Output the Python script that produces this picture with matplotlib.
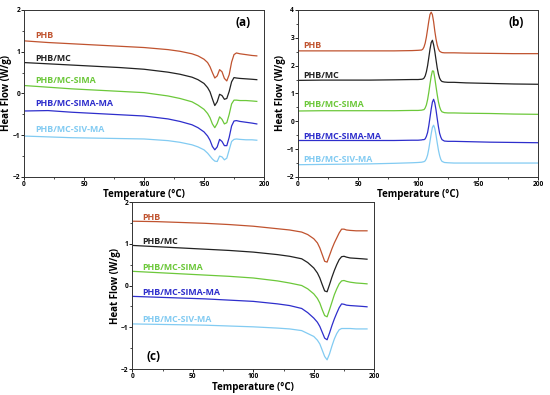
"""
DSC heat-flow curves for PHB and its composites, three panels (a), (b), (c).

Output:
    out.png
"""

import matplotlib.pyplot as plt
from matplotlib.ticker import MultipleLocator


OUTPUT_FIGURE = "out.png"

SAMPLE_NAMES = [
    "PHB",
    "PHB/MC",
    "PHB/MC-SIMA",
    "PHB/MC-SIMA-MA",
    "PHB/MC-SIV-MA",
]

COLORS = ["#c0532f", "#222222", "#6cc83a", "#2e2ecc", "#82cbf2"]

# panel (a): first heating, double melting peak
TEMP_A = [0, 20, 40, 60, 80, 100, 120, 130, 140, 145, 150, 153, 155, 157, 159,
          161, 163, 165, 167, 169, 171, 173, 175, 177, 180, 185, 190, 194]
PHB_A = [1.26, 1.22, 1.19, 1.16, 1.13, 1.10, 1.05, 1.01, 0.95, 0.90, 0.82, 0.74,
         0.64, 0.50, 0.37, 0.42, 0.57, 0.52, 0.36, 0.30, 0.45, 0.75, 0.93, 0.97,
         0.95, 0.93, 0.91, 0.90]
MC_A = [0.74, 0.71, 0.68, 0.65, 0.62, 0.58, 0.51, 0.46, 0.39, 0.33, 0.24, 0.14,
        0.04, -0.13, -0.29, -0.20, -0.02, -0.05, -0.14, -0.12, 0.05, 0.28, 0.38,
        0.37, 0.36, 0.35, 0.34, 0.33]
SIMA_A = [0.19, 0.15, 0.11, 0.08, 0.05, 0.02, -0.06, -0.12, -0.20, -0.28, -0.38,
          -0.48, -0.58, -0.73, -0.82, -0.72, -0.56, -0.62, -0.73, -0.70, -0.50,
          -0.25, -0.16, -0.16, -0.17, -0.17, -0.18, -0.19]
SIMA_MA_A = [-0.42, -0.41, -0.45, -0.48, -0.51, -0.54, -0.61, -0.67, -0.75, -0.82,
             -0.92, -1.02, -1.12, -1.27, -1.35, -1.28, -1.10, -1.15, -1.25, -1.25,
             -1.05, -0.78, -0.66, -0.65, -0.67, -0.69, -0.71, -0.73]
SIV_MA_A = [-1.02, -1.04, -1.06, -1.07, -1.08, -1.09, -1.13, -1.17, -1.23, -1.28,
            -1.35, -1.43, -1.50, -1.57, -1.62, -1.63, -1.50, -1.52, -1.59, -1.55,
            -1.35, -1.15, -1.10, -1.09, -1.10, -1.11, -1.11, -1.12]

# panel (b): cooling, crystallisation peak
TEMP_B = [0, 20, 40, 60, 80, 95, 100, 103, 104, 105, 106, 107, 108, 109, 110, 111,
          112, 113, 114, 115, 116, 117, 118, 119, 120, 122, 125, 130, 140, 160,
          180, 200]
PHB_B = [2.53, 2.53, 2.53, 2.53, 2.53, 2.54, 2.55, 2.56, 2.59, 2.67, 2.81, 3.03,
         3.31, 3.60, 3.84, 3.92, 3.83, 3.58, 3.24, 2.96, 2.74, 2.60, 2.52, 2.49,
         2.47, 2.46, 2.46, 2.46, 2.45, 2.44, 2.43, 2.43]
MC_B = [1.47, 1.48, 1.48, 1.48, 1.49, 1.50, 1.50, 1.51, 1.52, 1.55, 1.63, 1.78,
        2.00, 2.29, 2.59, 2.83, 2.91, 2.75, 2.51, 2.21, 1.92, 1.70, 1.55, 1.47,
        1.43, 1.41, 1.40, 1.40, 1.38, 1.36, 1.34, 1.33]
SIMA_B = [0.37, 0.38, 0.38, 0.38, 0.38, 0.39, 0.39, 0.40, 0.41, 0.42, 0.48, 0.59,
          0.78, 1.04, 1.34, 1.62, 1.81, 1.80, 1.55, 1.25, 0.96, 0.70, 0.52, 0.40,
          0.34, 0.31, 0.30, 0.30, 0.29, 0.28, 0.26, 0.25]
SIMA_MA_B = [-0.69, -0.69, -0.69, -0.69, -0.69, -0.68, -0.68, -0.67, -0.66, -0.66,
             -0.63, -0.54, -0.40, -0.16, 0.14, 0.44, 0.69, 0.79, 0.66, 0.41, 0.10,
             -0.19, -0.43, -0.57, -0.66, -0.71, -0.72, -0.72, -0.73, -0.75, -0.76,
             -0.77]
SIV_MA_B = [-1.56, -1.55, -1.54, -1.53, -1.51, -1.49, -1.48, -1.47, -1.46, -1.45,
            -1.42, -1.34, -1.21, -0.99, -0.72, -0.45, -0.22, -0.14, -0.26, -0.49,
            -0.77, -1.03, -1.23, -1.37, -1.44, -1.48, -1.49, -1.50, -1.50, -1.50,
            -1.50, -1.50]

# panel (c): second heating, single melting peak
TEMP_C = [0, 20, 40, 60, 80, 100, 120, 130, 140, 145, 150, 153, 155, 157, 159,
          161, 163, 165, 167, 169, 171, 173, 175, 177, 180, 185, 190, 194]
PHB_C = [1.54, 1.53, 1.51, 1.49, 1.46, 1.42, 1.36, 1.33, 1.28, 1.22, 1.12, 1.02,
         0.90, 0.74, 0.58, 0.56, 0.72, 0.88, 1.02, 1.14, 1.26, 1.35, 1.35, 1.33,
         1.32, 1.31, 1.31, 1.31]
MC_C = [0.96, 0.93, 0.90, 0.87, 0.84, 0.80, 0.74, 0.70, 0.64, 0.55, 0.42, 0.30,
        0.18, 0.02, -0.13, -0.15, 0.02, 0.20, 0.36, 0.50, 0.62, 0.69, 0.70, 0.68,
        0.66, 0.65, 0.64, 0.63]
SIMA_C = [0.34, 0.31, 0.28, 0.25, 0.22, 0.18, 0.11, 0.06, 0.00, -0.08, -0.20,
          -0.31, -0.42, -0.58, -0.72, -0.75, -0.58, -0.40, -0.22, -0.08, 0.04,
          0.11, 0.12, 0.10, 0.08, 0.06, 0.05, 0.04]
SIMA_MA_C = [-0.26, -0.28, -0.30, -0.32, -0.35, -0.38, -0.44, -0.48, -0.55, -0.65,
             -0.78, -0.88, -0.98, -1.12, -1.26, -1.30, -1.14, -0.96, -0.80, -0.66,
             -0.53, -0.44, -0.45, -0.47, -0.48, -0.49, -0.50, -0.51]
SIV_MA_C = [-0.92, -0.93, -0.94, -0.95, -0.97, -0.99, -1.02, -1.04, -1.08, -1.15,
            -1.22, -1.31, -1.40, -1.55, -1.70, -1.78, -1.64, -1.45, -1.28, -1.15,
            -1.06, -1.03, -1.03, -1.03, -1.03, -1.04, -1.04, -1.04]

# label anchor (x, y) of each sample name, per panel
LABEL_X = {"a": 9, "b": 4, "c": 8.5}
LABEL_Y_A = [1.38, 0.84, 0.32, -0.25, -0.87]
LABEL_Y_B = [2.71, 1.66, 0.62, -0.53, -1.39]
LABEL_Y_C = [1.63, 1.06, 0.43, -0.16, -0.82]

PANELS = [
    {
        "tag": "(a)",
        "rect": [0.0436, 0.552, 0.4364, 0.4228],
        "temp": TEMP_A,
        "curves": [PHB_A, MC_A, SIMA_A, SIMA_MA_A, SIV_MA_A],
        "label_x": LABEL_X["a"],
        "label_y": LABEL_Y_A,
        "ylim": (-2, 2),
        "tag_pos": (189, 1.71, "right"),
        "xlabel_y": -0.07,
        "ylabel_x": -0.05,
    },
    {
        "tag": "(b)",
        "rect": [0.5418, 0.552, 0.4364, 0.4228],
        "temp": TEMP_B,
        "curves": [PHB_B, MC_B, SIMA_B, SIMA_MA_B, SIV_MA_B],
        "label_x": LABEL_X["b"],
        "label_y": LABEL_Y_B,
        "ylim": (-2, 4),
        "tag_pos": (182, 3.54, "center"),
        "xlabel_y": -0.07,
        "ylabel_x": -0.05,
    },
    {
        "tag": "(c)",
        "rect": [0.2405, 0.0658, 0.4400, 0.4228],
        "temp": TEMP_C,
        "curves": [PHB_C, MC_C, SIMA_C, SIMA_MA_C, SIV_MA_C],
        "label_x": LABEL_X["c"],
        "label_y": LABEL_Y_C,
        "ylim": (-2, 2),
        "tag_pos": (17.5, -1.69, "center"),
        "xlabel_y": -0.075,
        "ylabel_x": -0.045,
    },
]


def draw_panel(fig, panel):
    ax = fig.add_axes(panel["rect"])

    for name, color, values, ly in zip(SAMPLE_NAMES, COLORS, panel["curves"], panel["label_y"]):
        ax.plot(panel["temp"], values, color=color, lw=0.9)
        ax.text(panel["label_x"], ly, name, color=color, fontsize=6.4,
                fontweight="bold", ha="left", va="center")

    tx, ty, ha = panel["tag_pos"]
    ax.text(tx, ty, panel["tag"], fontsize=8.5, fontweight="bold", ha=ha, va="center")

    ax.set_xlim(0, 200)
    ax.set_ylim(*panel["ylim"])
    ax.xaxis.set_major_locator(MultipleLocator(50))
    ax.xaxis.set_minor_locator(MultipleLocator(25))
    ax.yaxis.set_major_locator(MultipleLocator(1))
    ax.yaxis.set_minor_locator(MultipleLocator(0.5))
    ax.tick_params(which="major", direction="out", length=2, width=0.6,
                   labelsize=4.8, pad=0.8)
    ax.tick_params(which="minor", direction="out", length=1.2, width=0.5)
    for lab in ax.get_xticklabels() + ax.get_yticklabels():
        lab.set_fontweight("bold")
    for spine in ax.spines.values():
        spine.set_linewidth(0.7)
        spine.set_color("#333333")

    ax.set_xlabel("Temperature (°C)", fontsize=7, fontweight="bold")
    ax.set_ylabel("Heat Flow (W/g)", fontsize=7, fontweight="bold")
    ax.xaxis.set_label_coords(0.5, panel["xlabel_y"])
    ax.yaxis.set_label_coords(panel["ylabel_x"], 0.5)
    return ax


def main():
    plt.rcParams["font.family"] = ["Open Sans", "DejaVu Sans"]
    fig = plt.figure(figsize=(5.5, 3.95), dpi=100)

    for panel in PANELS:
        draw_panel(fig, panel)

    fig.savefig(OUTPUT_FIGURE, dpi=100)
    plt.close(fig)


if __name__ == "__main__":
    main()
